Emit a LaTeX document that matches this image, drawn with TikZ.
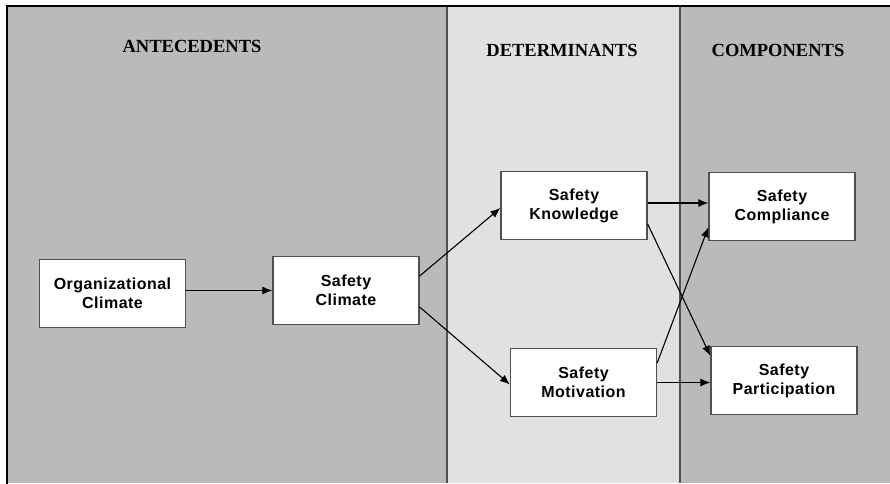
\documentclass[tikz,border=0pt]{standalone}
\usepackage{fontspec}
\setmainfont{Liberation Serif}
\setsansfont{Liberation Sans}[LetterSpace=3]
\usetikzlibrary{arrows.meta}
\definecolor{panelgrey}{HTML}{BABABA}
\definecolor{panellight}{HTML}{E1E1E1}
\definecolor{boxline}{HTML}{505050}
\begin{document}
\begin{tikzpicture}[x=1pt,y=-1pt,
  conceptbox/.style={draw=boxline,line width=1.3pt,fill=white,
    minimum width=146pt,minimum height=68pt,inner sep=0pt,align=center,
    font=\sffamily\bfseries\fontsize{16}{19}\selectfont},
  heading/.style={font=\rmfamily\bfseries\fontsize{18.5}{21}\selectfont},
  link/.style={line width=1.1pt,-{Latex[length=10pt,width=8pt]}},
  divider/.style={draw=boxline,line width=1.6pt}]
\useasboundingbox (0,0) rectangle (890,483);
\fill[white] (0,0) rectangle (890,483);
% three column panels
\fill[panelgrey]  (7,6) rectangle (447,483);
\fill[panellight] (447,6) rectangle (680,483);
\fill[panelgrey]  (680,6) rectangle (890,483);
\draw[divider] (447,6) -- (447,483);
\draw[divider] (680,6) -- (680,483);
\draw[line width=2.6pt,line cap=rect] (7,483) -- (7,6) -- (890,6);
% column headings
\node[heading] (hant) at (192,46) {ANTECEDENTS};
\node[heading] (hdet) at (562,50) {DETERMINANTS};
\node[heading] (hcom) at (778,50) {COMPONENTS};
% concept boxes
\node[conceptbox] (org)  at (112.5,293.5) {Organizational\\Climate};
\node[conceptbox] (clim) at (346,290.5) {Safety\\Climate};
\node[conceptbox] (know) at (574,205.5) {Safety\\Knowledge};
\node[conceptbox] (moti) at (583.5,382.5) {Safety\\Motivation};
\node[conceptbox] (comp) at (782,206.5) {Safety\\Compliance};
\node[conceptbox] (part) at (784,380.5) {Safety\\Participation};
% anchor points for the connectors (yshift acts on the page, upward positive)
\coordinate (knowout) at ([yshift=2.5pt]know.east);
% paths between concepts
\draw[link] (org.east |- clim.west) -- (clim.west);
\draw[link] ([yshift=14.5pt]clim.east) -- ([yshift=-2.5pt]know.west);
\draw[link] ([yshift=-16.5pt]clim.east) -- ([yshift=-2pt]moti.west);
\draw[link] (knowout) -- (comp.west |- knowout);
\draw[link] ([yshift=-18.5pt]know.east) -- ([yshift=-10pt]part.north west);
\draw[link] ([yshift=19.5pt]moti.east) -- ([yshift=14pt]comp.south west);
\draw[link] (moti.east) -- (part.west |- moti.east);
\end{tikzpicture}
\end{document}
